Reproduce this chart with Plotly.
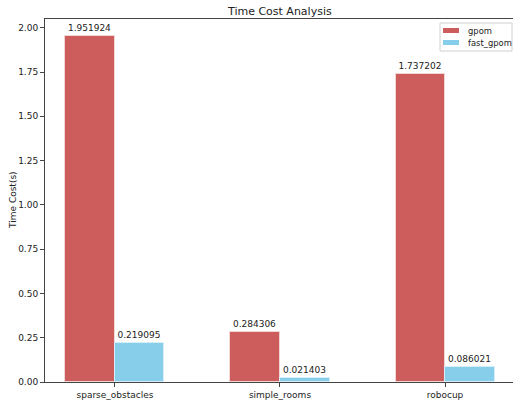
import plotly.graph_objects as go

categories = ["sparse_obstacles", "simple_rooms", "robocup"]
gpom = [1.951924, 0.284306, 1.737202]
fast_gpom = [0.219095, 0.021403, 0.086021]
y_ticks = [0.0, 0.25, 0.5, 0.75, 1.0, 1.25, 1.5, 1.75, 2.0]
series_names = ["gpom", "fast_gpom"]
series_colors = ["#CD5C5C", "#87CEEB"]
edge_colors = ["#F2D6D6", "#D6EEF8"]

x = list(range(len(categories)))
w = 0.3

fig = go.Figure()
for k, (vals, off) in enumerate([(gpom, -w / 2), (fast_gpom, w / 2)]):
    fig.add_trace(go.Bar(
        x=[i + off for i in x], y=vals, width=w, name=series_names[k],
        marker=dict(color=series_colors[k], line=dict(color=edge_colors[k], width=1)),
        texttemplate="%{y:.6f}", textposition="outside", constraintext="none",
        textfont=dict(size=9, color="#222"), cliponaxis=False, showlegend=False,
        hoverinfo="skip",
    ))

W, H = 513, 402
L, R, T, B = 45, 0, 19, 20
pw, ph = W - L - R, H - T - B

def px(xp):
    return (xp - L) / pw

def py(yp):
    return (H - B - yp) / ph

shapes = [dict(type="rect", xref="paper", yref="paper",
               x0=px(440), x1=px(512), y0=py(51), y1=py(23),
               line=dict(color="#D0D0D0", width=1), fillcolor="rgba(255,255,255,0.85)",
               layer="above")]
annotations = []
for k, name in enumerate(series_names):
    yc = 30.5 + 12 * k
    shapes.append(dict(type="rect", xref="paper", yref="paper",
                       x0=px(443), x1=px(459), y0=py(yc + 2.5), y1=py(yc - 2.5),
                       line=dict(width=0), fillcolor=series_colors[k], layer="above"))
    annotations.append(dict(xref="paper", yref="paper", x=px(466), y=py(yc),
                            text=name, showarrow=False, xanchor="left", yanchor="middle",
                            font=dict(size=8.4, color="#222")))
annotations.append(dict(xref="paper", yref="paper", x=px(13), y=py(200),
                        text="Time Cost(s)", showarrow=False, textangle=-90,
                        xanchor="center", yanchor="middle",
                        font=dict(size=9, color="#222")))
annotations.append(dict(xref="paper", yref="paper", x=px(279), y=py(11),
                        text="Time Cost Analysis", showarrow=False,
                        xanchor="center", yanchor="middle",
                        font=dict(size=11, color="#222")))

fig.update_layout(
    width=W, height=H,
    margin=dict(l=L, r=R, t=T, b=B),
    paper_bgcolor="white", plot_bgcolor="white",
    font=dict(family="DejaVu Sans", size=9, color="#222"),
    barmode="overlay", bargap=0,
    showlegend=False, hovermode=False,
    shapes=shapes, annotations=annotations,
)
fig.update_xaxes(
    range=[-0.424, 2.412], tickmode="array", tickvals=x, ticktext=categories,
    showgrid=False, zeroline=False, showline=True, linecolor="#444", linewidth=1,
    mirror=True, ticks="outside", ticklen=4, tickcolor="#444", automargin=False,
    tickfont=dict(size=9, color="#222"),
)
fig.update_yaxes(
    range=[0, 2.0495], tickmode="array", tickvals=y_ticks,
    ticktext=[f"{v:.2f}" for v in y_ticks],
    showgrid=False, zeroline=False, showline=True, linecolor="#444", linewidth=1,
    ticks="outside", ticklen=4, tickcolor="#444", automargin=False,
    tickfont=dict(size=9, color="#222"),
)

fig.write_html(
    "out.html",
    config={"displayModeBar": False},
    post_script="document.body.style.margin='0';document.body.style.overflow='hidden';",
)
